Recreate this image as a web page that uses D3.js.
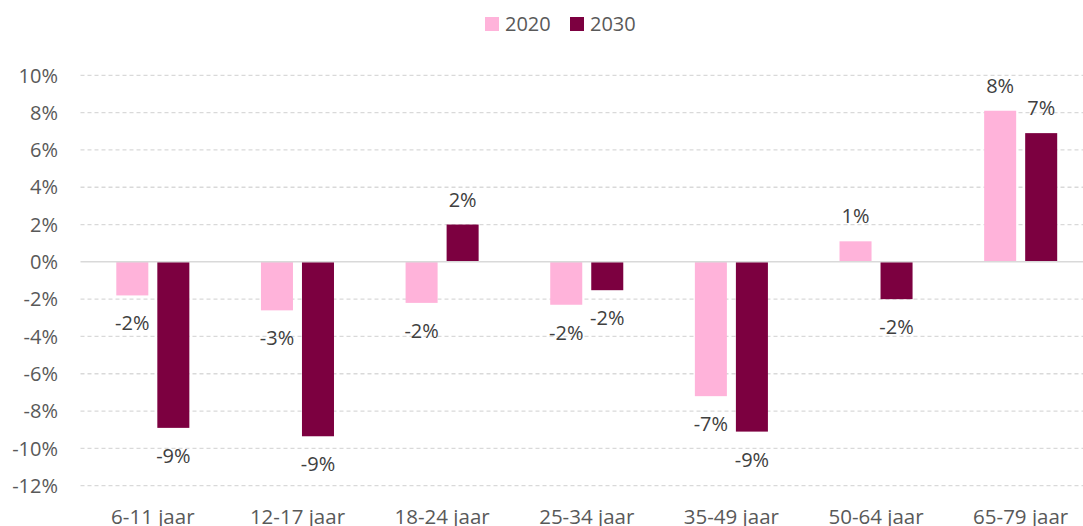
<!DOCTYPE html>
<html>
<head>
<meta charset="utf-8">
<script src="https://cdn.jsdelivr.net/npm/d3@7"></script>
<style>
body{margin:0;background:#fff}
svg{display:block}
text{font-family:"Open Sans","Liberation Sans",sans-serif}
</style>
</head>
<body>
<script>
const categories=["6-11 jaar","12-17 jaar","18-24 jaar","25-34 jaar","35-49 jaar","50-64 jaar","65-79 jaar"]
const series=["2020","2030"]
const values2020=[-1.8,-2.6,-2.2,-2.3,-7.2,1.1,8.1]
const values2030=[-8.9,-9.35,2.0,-1.52,-9.1,-2.0,6.9]
const yTicks=[-12,-10,-8,-6,-4,-2,0,2,4,6,8,10]
const colors={"2020":"#ffb3da","2030":"#7c0040"}

const W=1083,H=526
const plotL=80.5,plotR=1093,plotT=75.3,plotB=485.7

const fmt=v=>(v<0?"-":"")+Math.round(Math.abs(v))+"%"

const svg=d3.select("body").append("svg").attr("width",W).attr("height",H)

const x0=d3.scaleBand().domain(categories).range([plotL,plotR]).paddingInner(0.495).paddingOuter(0.2475)
const x1=d3.scaleBand().domain(series).range([0,x0.bandwidth()]).paddingInner(0.2195)
const y=d3.scaleLinear().domain([-12,10]).range([plotB,plotT])

// grid
svg.append("g").selectAll("line").data(yTicks.filter(d=>d!=0)).enter().append("line")
	.attr("x1",plotL).attr("x2",W)
	.attr("y1",d=>y(d)).attr("y2",d=>y(d))
	.attr("stroke","#d9d9d9").attr("stroke-width",1.3)
	.attr("stroke-dasharray","4,3")

// y labels
svg.append("g").selectAll("text").data(yTicks).enter().append("text")
	.attr("x",58).attr("y",d=>y(d)).attr("dy","0.36em")
	.attr("text-anchor","end").attr("font-size",20).attr("fill","#595959")
	.text(fmt)

const rows=categories.map((c,i)=>({cat:c,vals:[{s:"2020",v:values2020[i]},{s:"2030",v:values2030[i]}]}))

const groups=svg.append("g").selectAll("g").data(rows).enter().append("g")
	.attr("transform",d=>"translate("+x0(d.cat)+",0)")

groups.selectAll("rect").data(d=>d.vals).enter().append("rect")
	.attr("x",d=>x1(d.s)).attr("width",x1.bandwidth())
	.attr("y",d=>y(Math.max(0,d.v))).attr("height",d=>Math.abs(y(d.v)-y(0)))
	.attr("fill",d=>colors[d.s])

groups.selectAll("text").data(d=>d.vals).enter().append("text")
	.attr("x",d=>x1(d.s)+x1.bandwidth()/2)
	.attr("y",d=>d.v>=0?y(d.v)-18:y(d.v)+35)
	.attr("text-anchor","middle").attr("font-size",20).attr("fill","#404040")
	.text(d=>fmt(d.v))

// zero line
svg.append("line").attr("x1",plotL).attr("x2",W).attr("y1",y(0)).attr("y2",y(0))
	.attr("stroke","#d9d9d9").attr("stroke-width",1.5)

// x labels
svg.append("g").selectAll("text").data(categories).enter().append("text")
	.attr("x",d=>x0(d)+x0.bandwidth()/2).attr("y",523.5)
	.attr("text-anchor","middle").attr("font-size",20.5).attr("fill","#595959")
	.text(d=>d)

// legend
const leg=svg.append("g").selectAll("g").data(series).enter().append("g")
	.attr("transform",(d,i)=>"translate("+(485+i*85)+",17)")
leg.append("rect").attr("width",14).attr("height",14).attr("fill",d=>colors[d])
leg.append("text").attr("x",20).attr("y",14).attr("font-size",20).attr("fill","#595959").text(d=>d)
</script>
</body>
</html>
